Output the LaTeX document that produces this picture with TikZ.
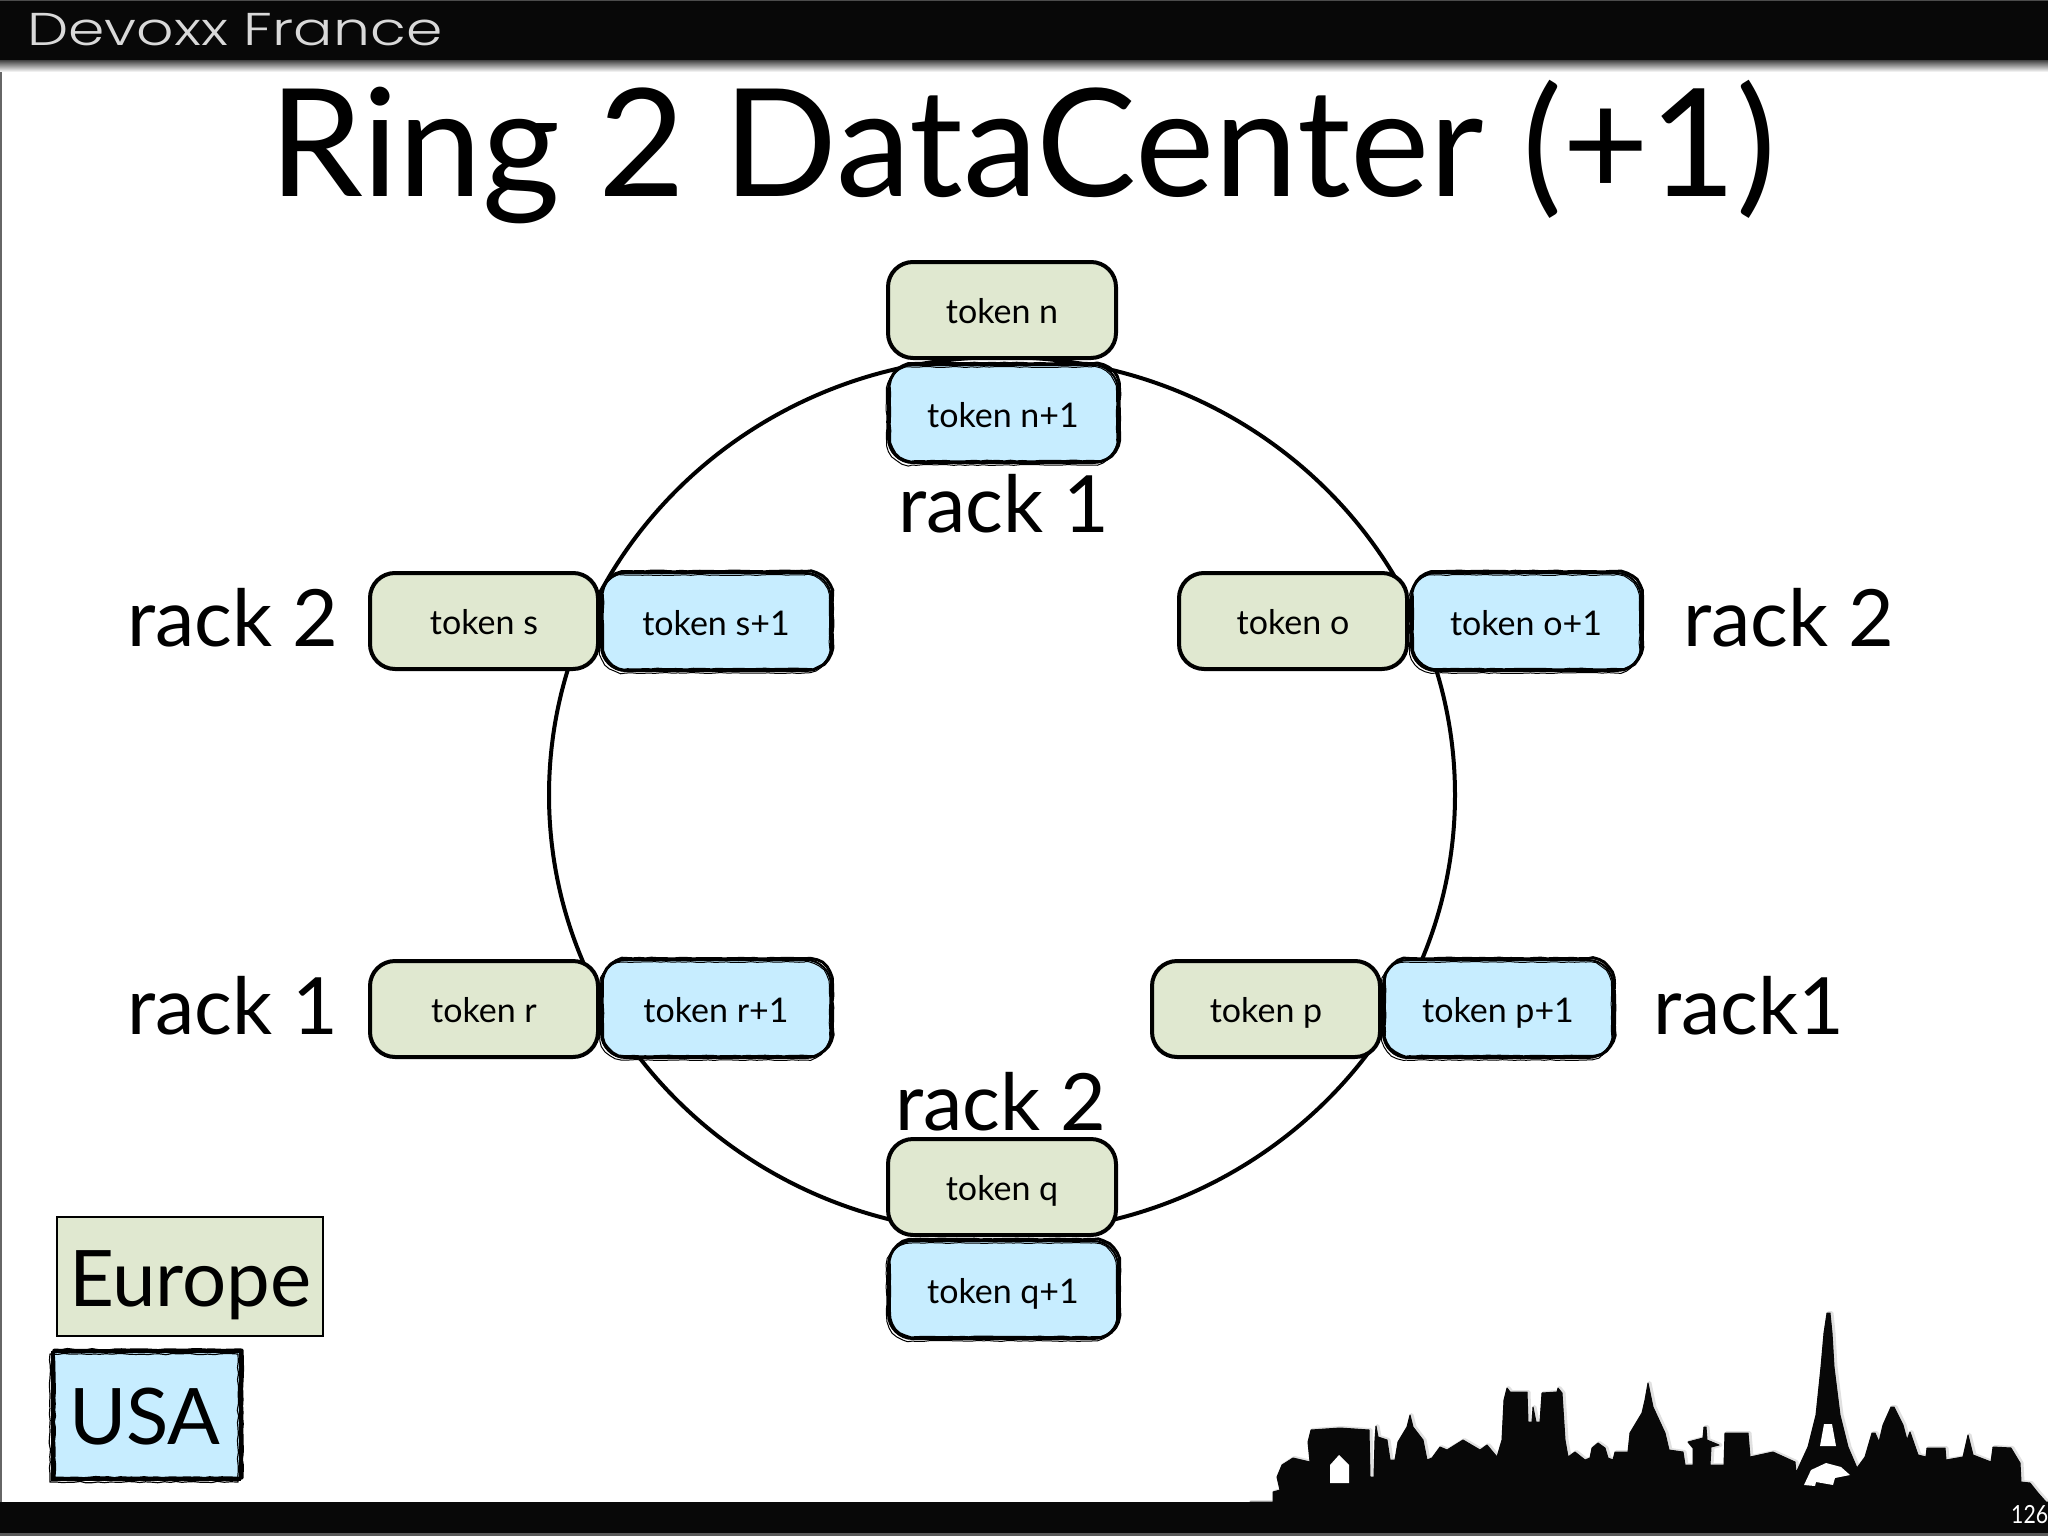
\documentclass[tikz,border=0pt]{standalone}
\usepackage{fontspec}
\usetikzlibrary{decorations.pathmorphing}
\setmainfont{Lato}
\newfontfamily\headfont{Poppins Light}
\definecolor{eugreen}{HTML}{E0E8D0}
\definecolor{usblue}{HTML}{C7EDFF}
\newcommand{\skypath}{(1250,1505) -- (1250,1502) -- (1273,1502) -- (1273,1492) -- (1280,1490) -- (1277,1477) -- (1282,1465) -- (1293,1458) -- (1310,1462) -- (1308,1442) -- (1311,1430) -- (1340,1428) -- (1369,1430) -- (1370,1477) -- (1374,1477) -- (1375,1440) -- (1376,1426) -- (1378,1437) -- (1387,1440) -- (1390,1460) -- (1395,1460) -- (1398,1442) -- (1407,1427) -- (1410,1415) -- (1413,1427) -- (1423,1440) -- (1427,1460) -- (1432,1458) -- (1440,1447) -- (1447,1450) -- (1463,1440) -- (1480,1450) -- (1487,1445) -- (1497,1457) -- (1502,1440) -- (1504,1400) -- (1507,1388) -- (1510,1392) -- (1527,1392) -- (1528,1422) -- (1532,1422) -- (1533,1407) -- (1536,1422) -- (1540,1422) -- (1542,1393) -- (1557,1392) -- (1558,1388) -- (1562,1393) -- (1565,1440) -- (1568,1457) -- (1575,1452) -- (1585,1460) -- (1590,1458) -- (1592,1448) -- (1598,1443) -- (1605,1448) -- (1608,1458) -- (1613,1460) -- (1615,1452) -- (1628,1452) -- (1630,1433) -- (1642,1413) -- (1645,1400) -- (1648,1383) -- (1653,1407) -- (1665,1433) -- (1669,1450) -- (1683,1452) -- (1685,1465) -- (1693,1465) -- (1693,1448) -- (1688,1442) -- (1703,1438) -- (1704,1427) -- (1706,1427) -- (1707,1440) -- (1719,1445) -- (1711,1447) -- (1710,1465) -- (1724,1465) -- (1725,1433) -- (1748,1433) -- (1750,1457) -- (1773,1452) -- (1795,1462) -- (1796,1473) -- (1808,1447) -- (1816,1415) -- (1821,1367) -- (1824,1333) -- (1827,1313) -- (1830,1313) -- (1832,1333) -- (1834,1367) -- (1840,1415) -- (1848,1447) -- (1857,1468) -- (1865,1457) -- (1872,1433) -- (1875,1433) -- (1879,1442) -- (1883,1425) -- (1891,1407) -- (1894,1407) -- (1903,1425) -- (1907,1440) -- (1910,1432) -- (1918,1455) -- (1926,1457) -- (1927,1448) -- (1945,1448) -- (1946,1460) -- (1963,1457) -- (1968,1435) -- (1973,1455) -- (1991,1462) -- (1993,1447) -- (2011,1448) -- (2020,1463) -- (2021,1482) -- (2030,1483) -- (2038,1493) -- (2046,1502) -- (2048,1502) -- (2048,1505) -- cycle}
\tikzset{
  txt/.style={inner sep=0pt,outer sep=0pt,anchor=base,text=black},
  tokentxt/.style={font=\fontsize{34}{40}\selectfont,text height=26pt,text depth=0pt},
  racktxt/.style={txt,font=\fontsize{79}{96}\selectfont},
  legendtxt/.style={txt,font=\fontsize{78}{96}\selectfont},
  rough/.style={draw=black,sharp corners,line join=round,decorate,decoration={random steps,segment length=6pt,amplitude=#1}},
  greenbox/.style={draw=black,line width=4pt,fill=eugreen,rounded corners=25pt,minimum width=228pt,minimum height=96pt,inner sep=0pt,outer sep=0pt,tokentxt},
  bluebox/.style={draw=black,line width=2pt,fill=usblue,rounded corners=25pt,minimum width=230pt,minimum height=98pt,inner sep=0pt,outer sep=0pt,tokentxt,
    postaction={rough=0.4pt,line width=3pt,transform canvas={shift={(1.5pt,1.5pt)}}},
    postaction={rough=0.5pt,line width=1pt,transform canvas={shift={(-1.5pt,-2pt)}}}},
  usabox/.style={draw=black,line width=2.5pt,fill=usblue,inner sep=0pt,outer sep=0pt,
    postaction={rough=0.6pt,line width=3pt,transform canvas={shift={(2pt,2pt)}}},
    postaction={rough=0.7pt,line width=1.2pt,transform canvas={shift={(-2pt,-2pt)}}}},
  ring/.style={draw=black,line width=4pt,fill=none},
}
\begin{document}
\begin{tikzpicture}[x=1pt,y=-1pt]
\pgfmathsetseed{11}
\useasboundingbox (0,0) rectangle (2048,1536);
\fill[white] (0,0) rectangle (2048,1536);
% frame edges
\fill[black!60] (0,0) rectangle (1.5,1536);
\fill[black!65] (0,1533) rectangle (2048,1536);
% header
\shade[top color=black!75,bottom color=white] (0,60) rectangle (2048,72);
\fill[black!97] (0,0) rectangle (2048,60);
\fill[black!70] (0,0) rectangle (2048,1.5);
\node[inner sep=0pt,anchor=base west,text=black!15,font=\fontsize{46}{50}\selectfont\headfont] (head) at (27,46) {\scalebox{1.27}[1]{Devoxx France}};
% title
\node[txt,font=\fontsize{150}{180}\selectfont] (title) at (1023,196) {Ring 2 DataCenter (+1)};
% ring
\coordinate (ringc) at (1002,795);
\draw[ring] (ringc) ellipse[x radius=453,y radius=438];
% tokens
\node[greenbox] (n) at (1002,310) {token n};
\node[bluebox] (n1) at (1003,414) {token n+1};
\node[greenbox] (s) at (484,621) {token s};
\node[bluebox] (s1) at (716,622) {token s+1};
\node[greenbox] (o) at (1293,621) {token o};
\node[bluebox] (o1) at (1526,622) {token o+1};
\node[greenbox] (r) at (484,1009) {token r};
\node[bluebox] (r1) at (716,1009) {token r+1};
\node[greenbox] (p) at (1266,1009) {token p};
\node[bluebox] (p1) at (1498,1009) {token p+1};
\node[greenbox] (q) at (1002,1187) {token q};
\node[bluebox] (q1) at (1003,1290) {token q+1};
% rack labels
\node[racktxt] (rtop) at (1004,532) {rack 1};
\node[racktxt,anchor=base west] (rsl) at (127,646) {rack 2};
\node[racktxt,anchor=base west] (rsr) at (1683,646) {rack 2};
\node[racktxt,anchor=base west] (rrl) at (127,1034) {rack 1};
\node[racktxt,anchor=base west] (rrr) at (1653,1034) {rack1};
\node[racktxt] (rbot) at (1001,1130) {rack 2};
% legend
\draw[draw=black,line width=2pt,fill=eugreen] (57,1217) rectangle (323,1336);
\node[legendtxt,anchor=base west] (eu) at (69,1306) {Europe};
\draw[usabox] (52,1352) rectangle (240,1480);
\node[legendtxt,anchor=base west] (usa) at (69,1444) {USA};
% skyline
\draw[black!12,line width=4pt,line join=round,xshift=1.5pt] \skypath;
\filldraw[fill=black!97,draw=black!97,line width=1pt,line join=round] \skypath;
\fill[white] (1330,1483) -- (1330,1465) -- (1339,1455) -- (1349,1465) -- (1349,1483) -- cycle;
\fill[white] (1820,1446) -- (1824,1424) -- (1832,1424) -- (1836,1446) -- cycle;
\fill[white] (1804,1485) -- (1811,1470) -- (1826,1463) -- (1841,1467) -- (1850,1475) -- (1835,1478) -- (1833,1485) -- (1816,1482) -- (1815,1486) -- cycle;
\fill[black!97] (0,1502) rectangle (2048,1533);
\node[inner sep=0pt,anchor=base west,text=white,font=\fontsize{25}{30}\selectfont] (page) at (2011,1523) {\scalebox{.85}[1]{126}};
\end{tikzpicture}
\end{document}
